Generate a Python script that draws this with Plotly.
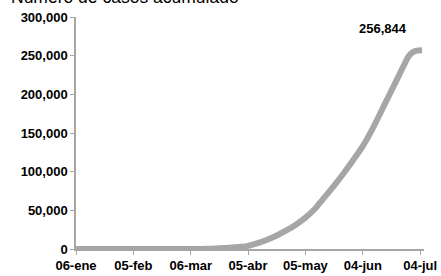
import plotly.graph_objects as go

dates = ["2020-01-06", "2020-02-05", "2020-02-28", "2020-03-06", "2020-03-16",
         "2020-03-26", "2020-04-05", "2020-04-10", "2020-04-15", "2020-04-20",
         "2020-04-25", "2020-04-30", "2020-05-05", "2020-05-10", "2020-05-15",
         "2020-05-20", "2020-05-25", "2020-05-30", "2020-06-04", "2020-06-09",
         "2020-06-14", "2020-06-19", "2020-06-24", "2020-06-28", "2020-07-01",
         "2020-07-03", "2020-07-05"]
cases = [0, 0, 5, 30, 300,
         1500, 4000, 7500, 12000, 17500,
         24000, 31500, 40500, 52000, 67000,
         82000, 98000, 115000, 133000, 155000,
         180000, 205000, 230000, 249500, 255800,
         256600, 256844]

tick_vals = ["2020-01-06", "2020-02-05", "2020-03-06", "2020-04-05",
             "2020-05-05", "2020-06-04", "2020-07-04"]
tick_text = ["06-ene", "05-feb", "06-mar", "05-abr", "05-may", "04-jun", "04-jul"]
y_ticks = [0, 50000, 100000, 150000, 200000, 250000, 300000]
y_text = ["0", "50,000", "100,000", "150,000", "200,000", "250,000", "300,000"]
title = "Número de casos acumulado"
last_label = "256,844"

font = "Liberation Sans, Arial, sans-serif"

fig = go.Figure()
fig.add_trace(go.Scatter(
    x=dates, y=cases, mode="lines",
    line=dict(color="#a6a6a6", width=6, shape="spline", smoothing=0.5),
    hoverinfo="skip", showlegend=False,
))

fig.add_annotation(
    x=dates[-1], y=cases[-1], text="<b>" + last_label + "</b>",
    showarrow=False, xanchor="center", yanchor="bottom",
    xshift=-39, yshift=12,
    font=dict(family=font, size=13, color="#000000"),
)
fig.add_annotation(
    xref="paper", yref="paper", x=-0.1925, y=1.0, text=title,
    showarrow=False, xanchor="left", yanchor="bottom", yshift=8,
    font=dict(family=font, size=17.5, color="#000000"),
)

fig.update_layout(
    width=441, height=276,
    margin=dict(l=76, r=17, t=17, b=27, autoexpand=False),
    paper_bgcolor="white", plot_bgcolor="white",
    font=dict(family=font, size=13, color="#000000"),
    xaxis=dict(
        type="date", range=["2020-01-06", "2020-07-06"], automargin=False,
        tickvals=tick_vals, ticktext=["<b>" + t + "</b>" for t in tick_text],
        showgrid=False, zeroline=False,
        showline=True, linecolor="#a6a6a6", linewidth=1.5,
        ticks="outside", ticklen=4, tickcolor="#a6a6a6",
        tickfont=dict(family=font, size=13, color="#000000"),
    ),
    yaxis=dict(
        range=[0, 300000], automargin=False,
        tickvals=y_ticks, ticktext=["<b>" + t + "</b>" for t in y_text],
        showgrid=False, zeroline=False,
        showline=True, linecolor="#a6a6a6", linewidth=1.5,
        ticks="outside", ticklen=4, tickcolor="#a6a6a6",
        tickfont=dict(family=font, size=13, color="#000000"),
    ),
)

fig.write_html("out.html", config={"displayModeBar": False},
               post_script="document.body.style.margin='0';")
